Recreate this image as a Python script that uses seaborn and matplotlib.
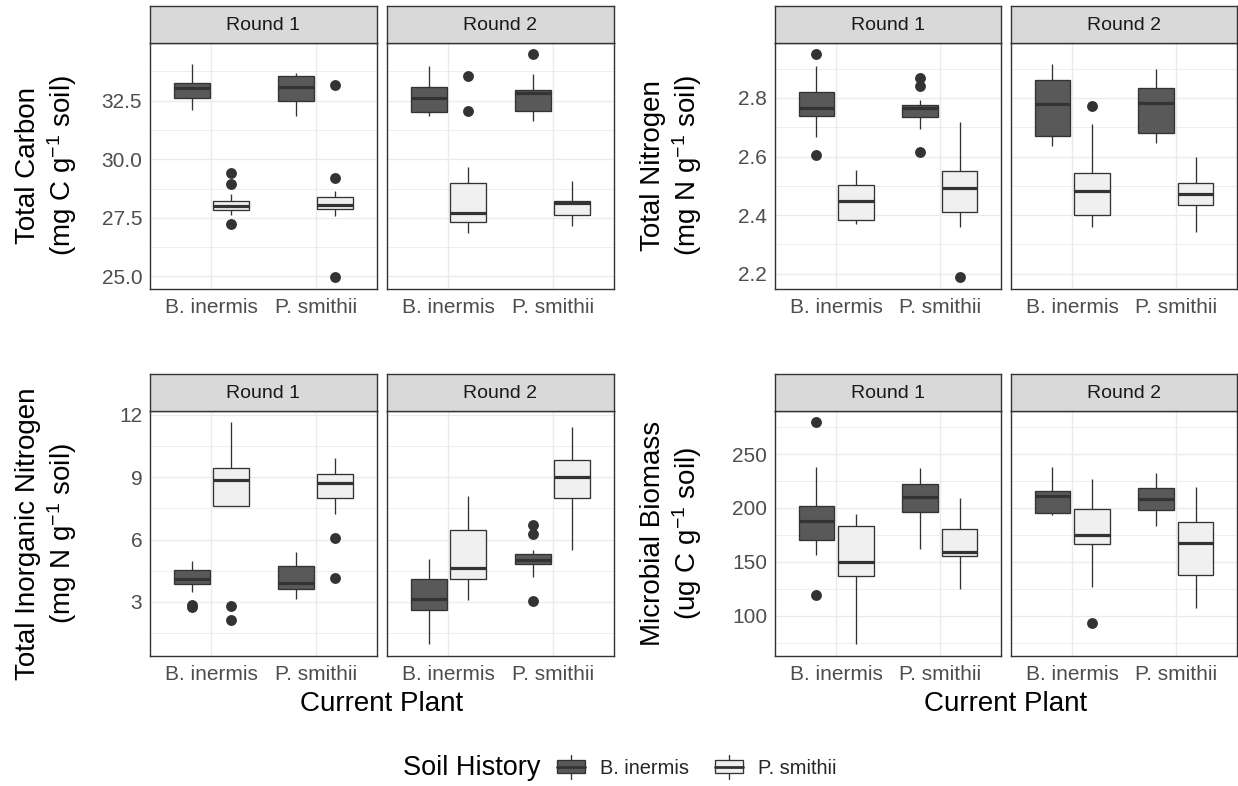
import matplotlib
matplotlib.use("Agg")
import numpy as np
import pandas as pd
import matplotlib.pyplot as plt
from matplotlib.patches import Rectangle
from matplotlib.lines import Line2D
from matplotlib.legend_handler import HandlerBase
import seaborn as sns

# ---------------------------------------------------------------------------
# Data: box summaries per group, ordered as
# (Round 1, B. inermis plant, B. inermis soil), (R1, B.i., P.s. soil),
# (R1, P. smithii plant, B.i. soil), (R1, P.s., P.s.), then the same for Round 2.
# Each group: lower whisker, Q1, median, Q3, upper whisker, outliers.
# ---------------------------------------------------------------------------
rounds = ["Round 1", "Round 2"]
plants = ["B. inermis", "P. smithii"]
soils = ["B. inermis", "P. smithii"]

carbon_lo = [32.09, 27.64, 31.83, 27.56, 31.83, 26.85, 31.65, 27.17]
carbon_q1 = [32.60, 27.85, 32.47, 27.89, 32.03, 27.34, 32.04, 27.64]
carbon_med = [33.03, 28.00, 33.07, 28.05, 32.63, 27.69, 32.83, 28.15]
carbon_q3 = [33.24, 28.22, 33.55, 28.38, 33.10, 28.97, 32.97, 28.22]
carbon_hi = [34.08, 28.52, 33.68, 28.66, 33.99, 29.67, 33.62, 29.06]
carbon_out = [[], [27.25, 28.96, 29.41], [], [24.96, 29.20, 33.15],
              [], [32.07, 33.54], [34.50], []]

nitrogen_lo = [2.668, 2.370, 2.694, 2.360, 2.635, 2.360, 2.645, 2.341]
nitrogen_q1 = [2.739, 2.385, 2.735, 2.411, 2.670, 2.401, 2.679, 2.436]
nitrogen_med = [2.767, 2.449, 2.764, 2.494, 2.779, 2.484, 2.783, 2.473]
nitrogen_q3 = [2.821, 2.502, 2.775, 2.550, 2.860, 2.545, 2.834, 2.510]
nitrogen_hi = [2.910, 2.553, 2.792, 2.716, 2.916, 2.711, 2.900, 2.598]
nitrogen_out = [[2.606, 2.950], [], [2.615, 2.840, 2.867], [2.188],
                [], [2.772], [], []]

inorg_lo = [3.47, 7.63, 3.16, 7.23, 0.96, 3.08, 4.22, 5.48]
inorg_q1 = [3.88, 7.63, 3.60, 7.98, 2.61, 4.09, 4.81, 7.98]
inorg_med = [4.12, 8.86, 3.91, 8.71, 3.15, 4.63, 5.01, 8.99]
inorg_q3 = [4.52, 9.45, 4.73, 9.16, 4.11, 6.48, 5.30, 9.82]
inorg_hi = [4.95, 11.65, 5.38, 9.94, 5.08, 8.12, 5.51, 11.43]
inorg_out = [[2.76, 2.84], [2.13, 2.83], [], [4.15, 6.10],
             [], [], [3.04, 6.29, 6.72], []]

mbc_lo = [156.8, 73.5, 162.3, 125.3, 193.2, 126.5, 183.0, 107.7]
mbc_q1 = [170.7, 136.7, 196.6, 155.9, 195.1, 166.7, 197.8, 138.3]
mbc_med = [188.0, 150.0, 210.5, 159.0, 211.1, 174.7, 208.3, 167.6]
mbc_q3 = [202.2, 183.0, 222.5, 180.2, 216.0, 199.4, 218.8, 187.0]
mbc_hi = [237.7, 194.4, 236.7, 209.3, 238.0, 227.2, 232.4, 219.1]
mbc_out = [[119.1, 279.6], [], [], [], [], [92.9], [], []]

carbon_ticks = [25.0, 27.5, 30.0, 32.5]
nitrogen_ticks = [2.2, 2.4, 2.6, 2.8]
inorg_ticks = [3, 6, 9, 12]
mbc_ticks = [100, 150, 200, 250]

carbon_title = "Total Carbon\n(mg C g$^{-1}$ soil)"
nitrogen_title = "Total Nitrogen\n(mg N g$^{-1}$ soil)"
inorg_title = "Total Inorganic Nitrogen\n(mg N g$^{-1}$ soil)"
mbc_title = "Microbial Biomass\n(ug C g$^{-1}$ soil)"

x_title = "Current Plant"
legend_title = "Soil History"


def observations(lo, q1, med, q3, hi, outs):
    """13 sorted observations whose quartiles, whiskers and outliers
    reproduce the given box summary (linear percentiles)."""
    low = sorted(o for o in outs if o < q1) + [lo]
    up = [hi] + sorted(o for o in outs if o > q3)
    low = low + [q1] * (4 - len(low))
    up = [q3] * (4 - len(up)) + up
    return low + [med] * 5 + up


def build_frame(lo, q1, med, q3, hi, outs):
    rows = []
    i = 0
    for r in rounds:
        for p in plants:
            for s in soils:
                for v in observations(lo[i], q1[i], med[i], q3[i], hi[i], outs[i]):
                    rows.append({"round": r, "plant": p, "soil": s, "value": v})
                i += 1
    return pd.DataFrame(rows)


carbon_df = build_frame(carbon_lo, carbon_q1, carbon_med, carbon_q3, carbon_hi, carbon_out)
nitrogen_df = build_frame(nitrogen_lo, nitrogen_q1, nitrogen_med, nitrogen_q3, nitrogen_hi, nitrogen_out)
inorg_df = build_frame(inorg_lo, inorg_q1, inorg_med, inorg_q3, inorg_hi, inorg_out)
mbc_df = build_frame(mbc_lo, mbc_q1, mbc_med, mbc_q3, mbc_hi, mbc_out)

# ---------------------------------------------------------------------------
# Style
# ---------------------------------------------------------------------------
sns.set_style("white")
plt.rcParams["font.family"] = ["Liberation Sans", "DejaVu Sans"]
plt.rcParams["mathtext.fontset"] = "custom"
plt.rcParams["mathtext.rm"] = "Liberation Sans"
plt.rcParams["mathtext.it"] = "Liberation Sans:italic"
plt.rcParams["mathtext.bf"] = "Liberation Sans:bold"

DARK = "#595959"
LIGHT = "#F0F0F0"
EDGE = "#333333"
GRID = "#EBEBEB"
STRIP = "#D9D9D9"
TICKTXT = "#4D4D4D"

W, H = 1238, 786
fig = plt.figure(figsize=(W / 100, H / 100), dpi=100)
fig.patch.set_facecolor("white")


def frac_rect(x0, x1, ytop, ybot):
    return [x0 / W, 1 - ybot / H, (x1 - x0) / W, (ybot - ytop) / H]


col_x = [(150, 377, 387, 614), (775, 1001, 1011, 1237)]
row_y = [(5.5, 42.7, 288.5), (373.5, 411.0, 655.5)]
ylab_x = [47, 672]
xlab_x = [382, 1006]


def draw_block(df, ticks, fmt, title, col, row, show_xlab):
    vals = df["value"].to_numpy()
    vmin, vmax = vals.min(), vals.max()
    pad = (vmax - vmin) * 0.05
    ylim = (vmin - pad, vmax + pad)
    step = ticks[1] - ticks[0]
    minors = [t + step / 2 for t in [ticks[0] - step] + list(ticks)]
    minors = [m for m in minors if ylim[0] <= m <= ylim[1]]

    xs = col_x[col]
    strip_top, panel_top, panel_bot = row_y[row]
    for k, rnd in enumerate(rounds):
        x0, x1 = xs[2 * k], xs[2 * k + 1]
        ax = fig.add_axes(frac_rect(x0, x1, panel_top, panel_bot))
        sub = df[df["round"] == rnd]
        sns.boxplot(
            data=sub, x="plant", y="value", hue="soil",
            order=plants, hue_order=soils, palette=[DARK, LIGHT],
            width=0.76, gap=0.09, linecolor=EDGE, linewidth=0.95,
            fliersize=6.8,
            flierprops=dict(marker="o", markerfacecolor=EDGE, markeredgecolor=EDGE),
            medianprops=dict(linewidth=2.3, color=EDGE),
            capprops=dict(linewidth=0),
            legend=False, ax=ax,
        )
        for ln in ax.lines:
            if ln.get_marker() == "o":
                ln.set_markerfacecolor(EDGE)
                ln.set_markeredgecolor(EDGE)
        ax.set_xlim(-0.59, 1.59)
        ax.set_ylim(*ylim)
        ax.set_yticks(ticks)
        ax.set_yticks(minors, minor=True)
        ax.set_yticklabels([fmt.format(t) for t in ticks])
        ax.set_xticks([0, 1])
        ax.set_xticklabels(plants)
        ax.set_axisbelow(True)
        ax.grid(True, which="major", axis="both", color=GRID, linewidth=1.0)
        ax.grid(True, which="minor", axis="y", color=GRID, linewidth=0.6)
        ax.set_facecolor("white")
        for sp in ax.spines.values():
            sp.set_visible(True)
            sp.set_color(EDGE)
            sp.set_linewidth(1.0)
        ax.tick_params(axis="x", which="major", length=3.6, width=0.9, color=EDGE,
                       labelsize=15, labelcolor=TICKTXT, pad=3)
        ax.tick_params(axis="y", which="major", length=3.6, width=0.9, color=EDGE,
                       labelsize=15, labelcolor=TICKTXT, pad=2)
        ax.tick_params(axis="y", which="minor", length=0)
        if k == 1:
            ax.tick_params(axis="y", which="major", length=0, labelleft=False)
        ax.set_xlabel("")
        ax.set_ylabel("")

        # facet strip
        sax = fig.add_axes(frac_rect(x0, x1, strip_top, panel_top))
        sax.set_facecolor(STRIP)
        sax.set_xticks([])
        sax.set_yticks([])
        for sp in sax.spines.values():
            sp.set_visible(True)
            sp.set_color(EDGE)
            sp.set_linewidth(1.0)
        sax.text(0.5, 0.47, rnd, ha="center", va="center", fontsize=14,
                 color="#1A1A1A", transform=sax.transAxes)

    yc = (panel_top + panel_bot) / 2
    fig.text(ylab_x[col] / W, 1 - yc / H, title, rotation=90, ha="center",
             va="center", multialignment="center", fontsize=20, color="black")
    if show_xlab:
        fig.text(xlab_x[col] / W, 1 - 704 / H, x_title, ha="center", va="center",
                 fontsize=20, color="black")


draw_block(carbon_df, carbon_ticks, "{:.1f}", carbon_title, 0, 0, False)
draw_block(nitrogen_df, nitrogen_ticks, "{:.1f}", nitrogen_title, 1, 0, False)
draw_block(inorg_df, inorg_ticks, "{:d}", inorg_title, 0, 1, True)
draw_block(mbc_df, mbc_ticks, "{:d}", mbc_title, 1, 1, True)


# legend with box-shaped keys
class BoxKey(HandlerBase):
    def create_artists(self, legend, orig_handle, xdescent, ydescent,
                       width, height, fontsize, trans):
        x0, y0 = -xdescent, -ydescent
        fc = orig_handle.get_facecolor()
        box = Rectangle((x0, y0 + 0.24 * height), width, 0.55 * height,
                        facecolor=fc, edgecolor=EDGE, linewidth=0.95, transform=trans)
        med = Line2D([x0, x0 + width], [y0 + 0.5 * height] * 2, color=EDGE,
                     linewidth=2.0, transform=trans)
        wlo = Line2D([x0 + width / 2] * 2, [y0, y0 + 0.24 * height], color=EDGE,
                     linewidth=0.95, transform=trans)
        whi = Line2D([x0 + width / 2] * 2, [y0 + 0.79 * height, y0 + height],
                     color=EDGE, linewidth=0.95, transform=trans)
        return [wlo, whi, box, med]


handles = [Rectangle((0, 0), 1, 1, facecolor=c) for c in (DARK, LIGHT)]
fig.legend(handles, soils, handler_map={Rectangle: BoxKey()},
           loc="center left", bbox_to_anchor=(557 / W, 1 - 767 / H),
           ncol=2, frameon=False, fontsize=14.4, handlelength=1.4,
           handleheight=1.45, handletextpad=0.75, columnspacing=1.3,
           borderpad=0, borderaxespad=0)
fig.text(403 / W, 1 - 768 / H, legend_title, ha="left", va="center",
         fontsize=19.5, color="black")

fig.savefig("out.png", dpi=100, facecolor="white")
